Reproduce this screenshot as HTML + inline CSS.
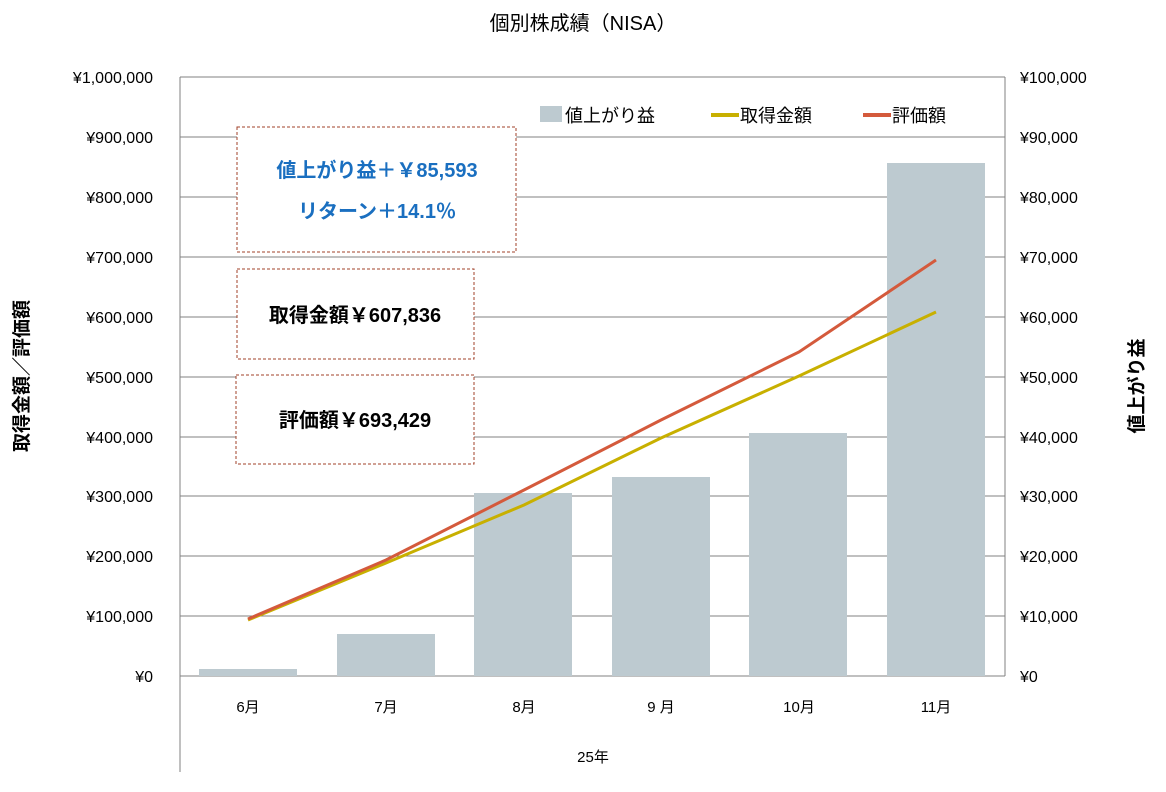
<!DOCTYPE html>
<html><head><meta charset="utf-8"><style>
body{margin:0;background:#fff}
svg{display:block;font-family:"Liberation Sans","Noto Sans CJK JP",sans-serif}
</style></head><body>
<svg width="1166" height="792" xmlns="http://www.w3.org/2000/svg">
<rect width="1166" height="792" fill="#fff"/>
<text x="583" y="30" font-size="20" text-anchor="middle" fill="#000">個別株成績（NISA）</text>
<g stroke="#808080" stroke-width="1">
<line x1="180" y1="77" x2="1005" y2="77"/>
<line x1="180" y1="137" x2="1005" y2="137"/>
<line x1="180" y1="197" x2="1005" y2="197"/>
<line x1="180" y1="257" x2="1005" y2="257"/>
<line x1="180" y1="317" x2="1005" y2="317"/>
<line x1="180" y1="377" x2="1005" y2="377"/>
<line x1="180" y1="437" x2="1005" y2="437"/>
<line x1="180" y1="496" x2="1005" y2="496"/>
<line x1="180" y1="556" x2="1005" y2="556"/>
<line x1="180" y1="616" x2="1005" y2="616"/>
<line x1="180" y1="676" x2="1005" y2="676"/>
<line x1="180" y1="77" x2="180" y2="772"/>
<line x1="1005" y1="77" x2="1005" y2="676"/>
</g>
<g fill="#bdcad0">
<rect x="199" y="669" width="98" height="7"/>
<rect x="337" y="634" width="98" height="42"/>
<rect x="474" y="493" width="98" height="183"/>
<rect x="612" y="477" width="98" height="199"/>
<rect x="749" y="433" width="98" height="243"/>
<rect x="887" y="163" width="98" height="513"/>
</g>
<polyline fill="none" stroke="#c8b000" stroke-width="3" points="248,620 386,563 524,505 661,438 799,376 936,312"/>
<polyline fill="none" stroke="#d45a3c" stroke-width="3" points="248,619 386,560 524,490 661,420 799,352 936,260"/>
<g fill="#000" font-size="16" text-anchor="end">
<text x="153" y="83">¥1,000,000</text><text x="153" y="143">¥900,000</text><text x="153" y="203">¥800,000</text><text x="153" y="263">¥700,000</text><text x="153" y="323">¥600,000</text><text x="153" y="383">¥500,000</text><text x="153" y="443">¥400,000</text><text x="153" y="502">¥300,000</text><text x="153" y="562">¥200,000</text><text x="153" y="622">¥100,000</text><text x="153" y="682">¥0</text>
</g>
<g fill="#000" font-size="16" text-anchor="start">
<text x="1020" y="83">¥100,000</text><text x="1020" y="143">¥90,000</text><text x="1020" y="203">¥80,000</text><text x="1020" y="263">¥70,000</text><text x="1020" y="323">¥60,000</text><text x="1020" y="383">¥50,000</text><text x="1020" y="443">¥40,000</text><text x="1020" y="502">¥30,000</text><text x="1020" y="562">¥20,000</text><text x="1020" y="622">¥10,000</text><text x="1020" y="682">¥0</text>
</g>
<g fill="#000" font-size="15" text-anchor="middle">
<text x="248" y="712">6月</text><text x="386" y="712">7月</text><text x="524" y="712">8月</text><text x="661" y="712">9 月</text><text x="799" y="712">10月</text><text x="936" y="712">11月</text>
<text x="593" y="762">25年</text>
</g>
<text transform="translate(28,376) rotate(-90)" font-size="19" font-weight="bold" text-anchor="middle" fill="#000">取得金額／評価額</text>
<text transform="translate(1143,386) rotate(-90)" font-size="19" font-weight="bold" text-anchor="middle" fill="#000">値上がり益</text>
<rect x="540" y="106" width="22" height="16" fill="#bdcad0"/>
<text x="565" y="122" font-size="18" fill="#000">値上がり益</text>
<line x1="711" y1="115" x2="739" y2="115" stroke="#c8b000" stroke-width="4"/>
<text x="740" y="122" font-size="18" fill="#000">取得金額</text>
<line x1="863" y1="115" x2="891" y2="115" stroke="#d45a3c" stroke-width="4"/>
<text x="892" y="122" font-size="18" fill="#000">評価額</text>
<g fill="#fff" stroke="#a0402a" stroke-width="1" stroke-dasharray="3,2">
<rect x="237" y="127" width="279" height="125"/>
<rect x="237" y="269" width="237" height="90"/>
<rect x="236" y="375" width="238" height="89"/>
</g>
<text x="377" y="177" font-size="20" font-weight="bold" text-anchor="middle" fill="#1a6fc0">値上がり益＋￥85,593</text>
<text x="377" y="218" font-size="20" font-weight="bold" text-anchor="middle" fill="#1a6fc0">リターン＋14.1％</text>
<text x="355" y="322" font-size="20" font-weight="bold" text-anchor="middle" fill="#000">取得金額￥607,836</text>
<text x="355" y="427" font-size="20" font-weight="bold" text-anchor="middle" fill="#000">評価額￥693,429</text>
</svg>
</body></html>
